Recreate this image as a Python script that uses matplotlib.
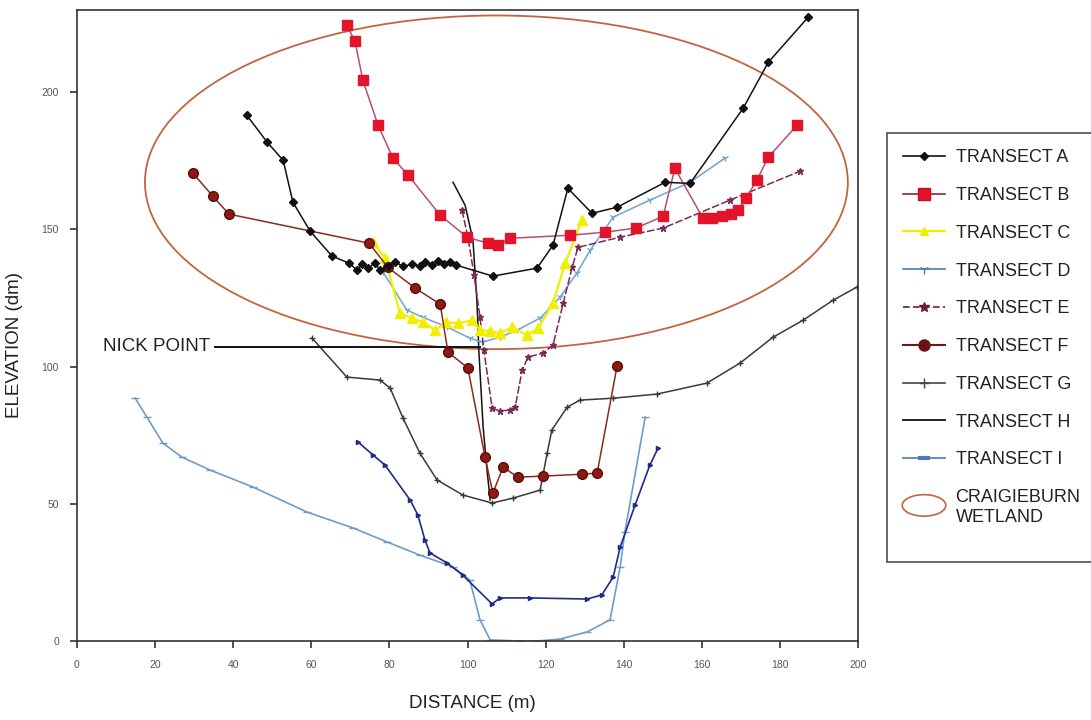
import numpy as np
import matplotlib
matplotlib.use("Agg")
import matplotlib.pyplot as plt
from matplotlib.lines import Line2D
from matplotlib.patches import Ellipse
from matplotlib.legend_handler import HandlerPatch

plt.rcParams['font.family'] = ['Liberation Sans', 'DejaVu Sans']

# transect profiles, distance (m) / elevation (dm)
a_x = [43.5, 48.7, 52.8, 55.3, 59.7, 65.3, 69.7, 71.7, 73.0, 74.5, 76.3, 77.6, 79.6, 81.4, 83.5,
       85.8, 87.8, 89.1, 90.9, 92.4, 94.0, 95.5, 97.1, 106.5, 117.8, 121.9, 125.7, 131.9, 138.3,
       150.6, 157.0, 170.6, 177.0, 187.2]
a_y = [191.6, 181.8, 175.2, 159.9, 149.4, 140.3, 137.7, 135.2, 137.3, 135.9, 137.7, 135.2, 136.6,
       138.1, 136.6, 137.3, 136.6, 138.1, 137.0, 138.4, 137.3, 138.1, 137.0, 133.0, 135.9, 144.3,
       165.0, 155.9, 158.1, 167.2, 166.8, 194.2, 210.9, 227.3]

b_x = [69.1, 71.2, 73.2, 77.1, 80.9, 84.8, 93.0, 99.9, 105.2, 107.8, 110.9, 126.2, 135.2, 143.1,
       150.1, 153.1, 160.3, 162.6, 165.2, 167.5, 169.3, 171.3, 174.1, 177.0, 184.4]
b_y = [224.4, 218.6, 204.4, 188.0, 176.0, 169.8, 155.2, 147.2, 145.0, 144.3, 146.8, 147.9, 149.0,
       150.5, 154.8, 172.3, 154.1, 154.1, 154.8, 155.6, 157.0, 161.4, 167.9, 176.3, 188.0]

c_x = [75.8, 78.9, 82.7, 85.8, 88.6, 91.7, 94.5, 97.6, 101.2, 103.2, 105.8, 108.3, 111.4, 115.2,
       118.1, 121.9, 125.0, 129.3]
c_y = [145.4, 139.5, 119.5, 117.7, 116.2, 113.3, 116.2, 115.8, 116.9, 113.3, 112.9, 112.2, 114.4,
       111.5, 114.0, 123.1, 137.7, 153.4]

d_x = [78.4, 84.5, 88.6, 94.8, 100.6, 103.7, 108.3, 112.7, 118.6, 123.7, 128.0, 131.4, 137.3,
       146.7, 157.0, 165.9]
d_y = [134.4, 120.6, 118.0, 114.4, 110.4, 108.9, 110.7, 113.3, 117.7, 125.3, 134.1, 142.4, 154.5,
       160.7, 167.2, 176.0]

e_x = [98.6, 100.1, 101.7, 103.2, 104.2, 106.3, 108.3, 110.9, 112.2, 114.0, 115.5, 119.3, 121.9,
       124.5, 126.8, 128.3, 139.1, 150.1, 167.2, 185.1]
e_y = [157.0, 147.2, 133.3, 118.0, 106.0, 84.9, 83.8, 84.2, 85.2, 98.7, 103.5, 104.9, 107.8,
       123.1, 136.2, 143.5, 147.2, 150.5, 160.7, 171.2]

f_x = [29.7, 34.8, 38.9, 74.8, 79.6, 86.6, 93.0, 95.0, 100.1, 104.5, 106.5, 109.1, 112.9, 119.3,
       129.3, 133.2, 138.3]
f_y = [170.5, 162.1, 155.6, 145.0, 136.2, 128.6, 122.8, 105.3, 99.5, 67.0, 53.9, 63.4, 59.7,
       60.1, 60.8, 61.2, 100.2]

g_x = [60.2, 69.1, 77.6, 80.2, 83.5, 87.8, 92.2, 98.8, 106.3, 111.7, 118.6, 120.4, 121.6, 125.5,
       128.8, 137.3, 148.5, 161.3, 169.8, 178.2, 185.9, 193.6, 199.7]
g_y = [110.4, 96.2, 95.1, 92.2, 81.2, 68.5, 58.7, 53.2, 50.3, 52.1, 55.0, 68.5, 76.9, 85.2, 87.8,
       88.5, 90.0, 94.0, 101.3, 110.7, 116.9, 124.2, 129.0]

h_x = [96.3, 99.4, 101.4, 102.4, 102.9, 104.0, 105.0, 105.8]
h_y = [167.2, 158.8, 146.1, 124.2, 106.0, 78.0, 62.3, 51.4]

i_x = [14.9, 17.9, 22.0, 26.9, 34.1, 45.1, 58.9, 70.7, 79.4, 87.8, 96.3, 100.6, 103.2, 105.8,
       113.4, 117.8, 123.7, 130.6, 136.5, 139.1, 140.3, 145.5]
i_y = [88.5, 81.6, 72.1, 67.0, 62.3, 56.1, 47.0, 41.2, 36.1, 31.3, 27.0, 22.2, 7.7, 0.4, 0.0,
       0.0, 0.7, 3.3, 7.7, 27.0, 39.7, 81.6]

# lower navy profile (not in the key)
n_x = [72.0, 75.8, 78.9, 85.3, 87.3, 89.1, 90.4, 94.8, 98.8, 106.3, 108.3, 116.0, 130.6, 134.4,
       137.3, 139.1, 142.9, 146.7, 148.8]
n_y = [72.5, 67.8, 64.1, 51.4, 45.9, 36.8, 32.1, 28.4, 24.0, 13.5, 15.7, 15.7, 15.3, 16.8, 23.3,
       34.2, 49.5, 64.1, 70.3]

nick_x = [35.3, 103.2]
nick_y = [107.1, 107.1]

wet_center = (107.4, 167.2)
wet_w, wet_h = 180.0, 121.6

fig = plt.figure(figsize=(10.91, 7.2), dpi=100)
ax = fig.add_axes([77/1091, 79/720, 781/1091, 631/720])

wet_col = '#c0653f'
ax.add_patch(Ellipse(wet_center, wet_w, wet_h, fill=False, ec=wet_col, lw=1.3, zorder=1))

ax.plot(i_x, i_y, color='#6e9cc8', lw=1.2, marker='_', ms=6, zorder=2)
ax.plot(n_x, n_y, color='#1f2a8a', lw=1.2, marker='>', ms=3, zorder=2)
ax.plot(g_x, g_y, color='#3a3a3a', lw=1.1, marker='+', ms=5, zorder=2)
ax.plot(h_x, h_y, color='#111111', lw=1.1, zorder=2)
ax.plot(nick_x, nick_y, color='#111111', lw=1.4, zorder=3)
ax.plot(d_x, d_y, color='#6fa3d6', lw=1.1, marker='1', ms=5, zorder=3)
ax.plot(e_x, e_y, color='#7a2a55', lw=1.1, ls=(0, (5, 1.5)), marker='*', ms=5, zorder=3)
ax.plot(c_x, c_y, color='#f2ee00', lw=1.6, marker='^', ms=7, mec='#f2ee00', zorder=4)
ax.plot(f_x, f_y, color='#8a2a20', lw=1.1, marker='o', ms=7, mfc='#8b1a12', mec='#5a0c08', zorder=4)
ax.plot(b_x, b_y, color='#b0507a', lw=1.1, marker='s', ms=7, mfc='#e5132a', mec='#e5132a', zorder=4)
ax.plot(a_x, a_y, color='#111111', lw=1.1, marker='D', ms=4.5, zorder=5)

ax.text(34.0, 107.3, 'NICK POINT', ha='right', va='center', fontsize=13.5, color='#222222')

ax.set_xlim(0, 200)
ax.set_ylim(0, 230)
ax.set_xticks(np.arange(0, 201, 20))
ax.set_yticks([0, 50, 100, 150, 200])
ax.tick_params(axis='both', labelsize=7.5, labelcolor='#555555', length=5, width=1.2, color='#333333')
ax.tick_params(axis='x', pad=9)
ax.tick_params(axis='y', pad=8)
for s in ax.spines.values():
    s.set_color('#333333')
    s.set_linewidth(1.2)

fig.text(472/1091, 1 - 703/720, 'DISTANCE (m)', ha='center', va='center', fontsize=13.5, color='#222222')
fig.text(15/1091, 1 - 345/720, 'ELEVATION (dm)', ha='center', va='center', rotation=90,
         fontsize=13.5, color='#222222')

# key, drawn to look like the original one
handles = [
    Line2D([], [], color='#111111', lw=1.2, marker='D', ms=4),
    Line2D([], [], color='#8a2a30', lw=1.2, marker='s', ms=8, mfc='#e5132a', mec='#c01020'),
    Line2D([], [], color='#f2ee00', lw=1.6, marker='^', ms=6, mec='#f2ee00'),
    Line2D([], [], color='#4a78b8', lw=1.2, marker='1', ms=7),
    Line2D([], [], color='#6a1e3a', lw=1.2, ls=(0, (4, 2)), marker='*', ms=7),
    Line2D([], [], color='#6a1a14', lw=1.5, marker='o', ms=8, mfc='#6a1010'),
    Line2D([], [], color='#444444', lw=1.2, marker='+', ms=7),
    Line2D([], [], color='#111111', lw=1.3),
    Line2D([], [], color='#4a78b8', lw=1.2, marker='_', ms=8, mew=3),
    Ellipse((0, 0), 1, 1, fill=False, ec=wet_col, lw=1.2),
]
labels = ['TRANSECT A', 'TRANSECT B', 'TRANSECT C', 'TRANSECT D', 'TRANSECT E', 'TRANSECT F',
          'TRANSECT G', 'TRANSECT H', 'TRANSECT I', 'CRAIGIEBURN\nWETLAND\n']


def make_ell(legend, orig_handle, xdescent, ydescent, width, height, fontsize):
    # sit beside the first text line of a three-line label
    return Ellipse((width / 2 - xdescent, height * 1.45 - ydescent), width * 1.05, height * 1.7)


leg = fig.legend(handles, labels, loc='upper left', bbox_to_anchor=(887/1091, 1 - 133/720),
                 fontsize=13, frameon=True, fancybox=False, edgecolor='#222222',
                 handlelength=2.3, handletextpad=0.6, labelspacing=1.15, borderpad=0.9,
                 borderaxespad=0, handler_map={Ellipse: HandlerPatch(patch_func=make_ell)})
leg.get_frame().set_linewidth(1.2)
for t in leg.get_texts():
    t.set_color('#222222')

fig.savefig('out.png', dpi=100)
